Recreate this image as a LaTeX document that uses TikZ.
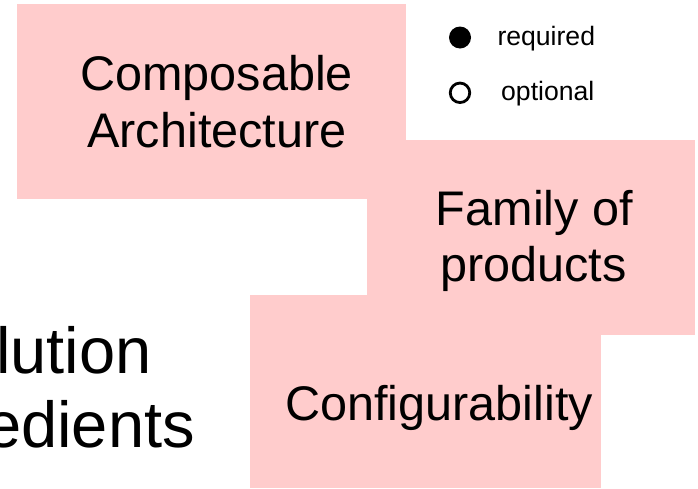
\documentclass[tikz,border=0pt]{standalone}
\usepackage{fontspec}
\setmainfont{Liberation Sans}
\usepackage{tikz}
\definecolor{boxpink}{RGB}{255,204,204}

\begin{document}
\begin{tikzpicture}[x=1pt,y=-1pt,
  pinkbox/.style={fill=boxpink,anchor=north west,inner sep=0pt,outer sep=0pt},
  bigtext/.style={anchor=base,inner sep=0pt,font=\fontsize{48.6}{56}\selectfont},
  sidetext/.style={anchor=base west,inner sep=0pt,font=\fontsize{65}{72}\selectfont},
  legtext/.style={anchor=base west,inner sep=0pt,font=\fontsize{26.6}{30}\selectfont}]

\clip (0,0) rectangle (698,488);

% the three blocks
\node[pinkbox,minimum width=389pt,minimum height=195pt] (arch) at (17,4) {};
\node[pinkbox,minimum width=328pt,minimum height=195pt] (family) at (367,140) {};
\node[pinkbox,minimum width=351pt,minimum height=193pt] (config) at (250,295) {};

\node[bigtext] (archa) at (216.5,90) {Composable};
\node[bigtext] (archb) at (217,147.5) {Architecture};
\node[bigtext] (familya) at (534.5,225) {Family of};
\node[bigtext] (familyb) at (533.5,281.7) {products};
\node[bigtext] (configa) at (439,420) {Configurability};

% legend
\node[circle,fill=black,inner sep=0pt,minimum size=22pt] (req) at (460,37.5) {};
\node[circle,draw=black,line width=2.8pt,inner sep=0pt,minimum size=19.5pt] (opt) at (460,92.8) {};
\node[legtext] (reqtext) at (497.3,45.7) {required};
\node[legtext] (opttext) at (501,100) {optional};

% cut-off title on the left
\node[sidetext] (titlea) at (-4,373) {lution};
\node[sidetext] (titleb) at (-15,447) {edients};

\end{tikzpicture}
\end{document}
